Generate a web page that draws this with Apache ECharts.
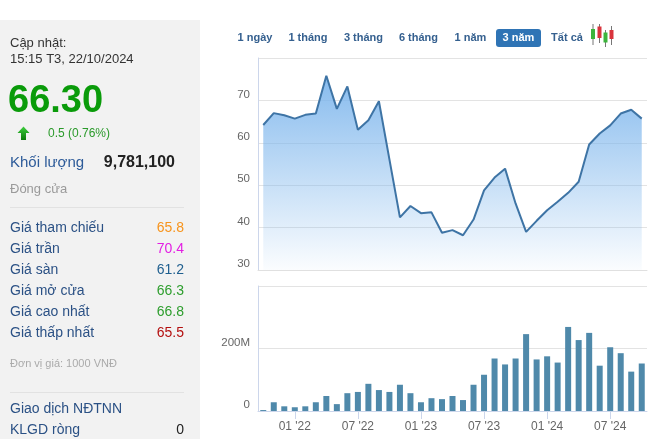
<!DOCTYPE html>
<html><head><meta charset="utf-8">
<script src="https://cdn.jsdelivr.net/npm/echarts@6/dist/echarts.min.js"></script>
<style>html,body{margin:0;padding:0;background:#fff;overflow:hidden}#c{width:658px;height:439px}</style>
</head><body><div id="c"></div>
<script>
// ---- data ----
const months = ["10 '21","11 '21","12 '21","01 '22","02 '22","03 '22","04 '22","05 '22","06 '22","07 '22","08 '22","09 '22",
  "10 '22","11 '22","12 '22","01 '23","02 '23","03 '23","04 '23","05 '23","06 '23","07 '23","08 '23","09 '23",
  "10 '23","11 '23","12 '23","01 '24","02 '24","03 '24","04 '24","05 '24","06 '24","07 '24","08 '24","09 '24","10 '24"];
const prices = [64.2,67.0,66.5,65.7,66.6,66.9,75.8,68.0,73.3,63.1,65.3,69.8,
  56.1,42.4,45.1,43.4,43.6,38.8,39.4,38.2,41.9,48.8,51.8,53.9,
  45.7,39.0,41.6,44.1,46.1,48.2,50.8,59.6,62.2,64.1,66.9,67.8,65.7];
const volumesM = [3,28,15,12,15,28,48,22,57,61,87,67,
  61,84,57,28,41,38,48,35,84,116,168,149,
  168,246,165,175,155,269,227,250,145,204,185,126,152];
const priceTicks = [30,40,50,60,70,80];
const volumeTicks = [0,200,400];
const rangeButtons = ['1 ngày','1 tháng','3 tháng','6 tháng','1 năm','3 năm','Tất cả'];
const selectedRange = '3 năm';
const updateLabel = 'Cập nhật:';
const updateTime = '15:15 T3, 22/10/2024';
const lastPrice = '66.30';
const change = '0.5 (0.76%)';
const volumeLabel = 'Khối lượng';
const volumeValue = '9,781,100';
const statusText = 'Đóng cửa';
const infoLabels = ['Giá tham chiếu','Giá trần','Giá sàn','Giá mở cửa','Giá cao nhất','Giá thấp nhất'];
const infoValues = ['65.8','70.4','61.2','66.3','66.8','65.5'];
const infoColors = ['#f7941d','#e31ee3','#1f5f8f','#2e9e2e','#2e9e2e','#b40f0f'];
const unitText = 'Đơn vị giá: 1000 VNĐ';
const foreignTitle = 'Giao dịch NĐTNN';
const foreignLabel = 'KLGD ròng';
const foreignValue = '0';

// ---- chart ----
const FONT = '"Liberation Sans", Arial, sans-serif';
const chart = echarts.init(document.getElementById('c'), null, {renderer: 'canvas'});
const isHalfYear = (i, v) => v.startsWith('01') || v.startsWith('07');

const g = [];
// sidebar background
g.push({type:'rect', shape:{x:0,y:20,width:200,height:430}, style:{fill:'#f2f2f2'}, z:-10});
const T = (text, x, y, font, fill, align) => g.push({type:'text', x:0, y:0, style:{text, x, y, font, fill, textAlign: align||'left', textVerticalAlign:'middle'}});
T(updateLabel, 10, 43, '13px '+FONT, '#333');
T(updateTime, 10, 59, '13px '+FONT, '#333');
T(lastPrice, 8, 102, 'bold 38px '+FONT, '#0a9b0a');
g.push({type:'polygon', shape:{points:[[23.5,126.5],[17.5,133],[21,133],[21,140],[26,140],[26,133],[29.5,133]]},
  style:{fill: new echarts.graphic.LinearGradient(0,0,0,1,[{offset:0,color:'#3fcf3f'},{offset:1,color:'#0a7a0a'}])}});
T(change, 48, 133.5, '12px '+FONT, '#2a9a2a');
T(volumeLabel, 10, 162.5, '15px '+FONT, '#2d5b99');
T(volumeValue, 175, 162.5, 'bold 16px '+FONT, '#222', 'right');
T(statusText, 10, 189.5, '13px '+FONT, '#9a9a9a');
g.push({type:'line', shape:{x1:10,y1:207.5,x2:184,y2:207.5}, style:{stroke:'#e2e2e2', lineWidth:1}});
infoLabels.forEach((lab, i) => {
  const y = 228.5 + i*21;
  T(lab, 10, y, '14px '+FONT, '#2b5185');
  T(infoValues[i], 184, y, '14px '+FONT, infoColors[i], 'right');
});
T(unitText, 10, 364, '11px '+FONT, '#aaaaaa');
g.push({type:'line', shape:{x1:10,y1:392.5,x2:184,y2:392.5}, style:{stroke:'#e2e2e2', lineWidth:1}});
T(foreignTitle, 10, 409, '14px '+FONT, '#2b5185');
T(foreignLabel, 10, 430, '14px '+FONT, '#2b5185');
T(foreignValue, 184, 430, '14px '+FONT, '#222', 'right');

// range buttons
const btnCenters = [255, 308, 363.5, 418.5, 470.5, 518.5, 567];
rangeButtons.forEach((b, i) => {
  const sel = b === selectedRange;
  if (sel) g.push({type:'rect', shape:{x:496,y:29,width:45,height:18,r:3}, style:{fill:'#2f74b5'}});
  T(b, btnCenters[i], 38, 'bold 11px '+FONT, sel ? '#fff' : '#35608f', 'center');
});
// candlestick icon
const candles = [
  {x:591, wick:[24,45], body:[29,39], c:'#3cb43c'},
  {x:597.5, wick:[24,43], body:[26.5,38], c:'#d9343c'},
  {x:603.5, wick:[30,47], body:[32.5,42.5], c:'#3cb43c'},
  {x:609.5, wick:[26,45], body:[30,39], c:'#d9343c'}
];
candles.forEach(k => {
  g.push({type:'line', shape:{x1:k.x+2,y1:k.wick[0],x2:k.x+2,y2:k.wick[1]}, style:{stroke:'#777', lineWidth:1}});
  g.push({type:'rect', shape:{x:k.x,y:k.body[0],width:4,height:k.body[1]-k.body[0]}, style:{fill:k.c}});
});

const axisLabelStyle = {color:'#666', fontSize:11.5, fontFamily: FONT, verticalAlign:'bottom', lineHeight:12};

const option = {
  animation: false,
  backgroundColor: '#fff',
  graphic: {elements: g},
  grid: [
    {left:258, top:58, width:389, height:212},
    {left:258, top:286, width:389, height:125}
  ],
  xAxis: [
    {type:'category', gridIndex:0, data:months, boundaryGap:true,
     axisLine:{show:true, lineStyle:{color:'#e0e0e0'}}, axisTick:{show:false}, axisLabel:{show:false}, splitLine:{show:false}},
    {type:'category', gridIndex:1, data:months, boundaryGap:true,
     axisLine:{show:true, lineStyle:{color:'#ccd6eb'}},
     axisTick:{show:true, alignWithLabel:true, interval:isHalfYear, length:8, lineStyle:{color:'#ccd6eb'}},
     axisLabel:{interval:isHalfYear, color:'#666', fontSize:12, fontFamily:FONT, margin:10},
     splitLine:{show:false}}
  ],
  yAxis: [
    {type:'value', gridIndex:0, min:priceTicks[0], max:priceTicks[priceTicks.length-1], interval:priceTicks[1]-priceTicks[0],
     axisLine:{show:true, lineStyle:{color:'#ccd6eb'}}, axisTick:{show:false},
     axisLabel:Object.assign({margin:8, formatter: v => v === priceTicks[priceTicks.length-1] ? '' : String(v)}, axisLabelStyle),
     splitLine:{show:true, lineStyle:{color:'#e3e3e3'}}},
    {type:'value', gridIndex:1, min:volumeTicks[0], max:volumeTicks[volumeTicks.length-1], interval:volumeTicks[1]-volumeTicks[0],
     axisLine:{show:true, lineStyle:{color:'#ccd6eb'}}, axisTick:{show:false},
     axisLabel:Object.assign({margin:8, formatter: v => v === volumeTicks[volumeTicks.length-1] ? '' : (v === 0 ? '0' : v + 'M')}, axisLabelStyle),
     splitLine:{show:true, lineStyle:{color:'#e3e3e3'}}}
  ],
  series: [
    {type:'line', xAxisIndex:0, yAxisIndex:0, data:prices, showSymbol:false, symbol:'none',
     lineStyle:{color:'#3e74a5', width:2}, itemStyle:{color:'#3e74a5'},
     areaStyle:{color:new echarts.graphic.LinearGradient(0,58,0,270,[{offset:0,color:'rgba(124,181,236,1)'},{offset:1,color:'rgba(124,181,236,0.03)'}], true), opacity:1}},
    {type:'bar', xAxisIndex:1, yAxisIndex:1, data:volumesM, barWidth:6, itemStyle:{color:'#4f89aa'}}
  ]
};
chart.setOption(option);
</script></body></html>
